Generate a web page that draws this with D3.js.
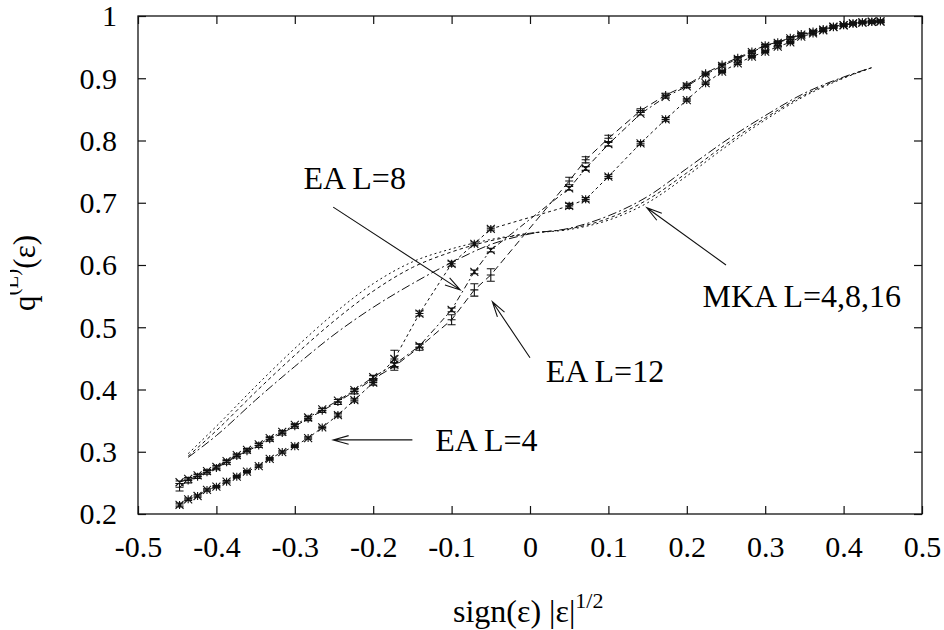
<!DOCTYPE html>
<html>
<head>
<meta charset="utf-8">
<script src="https://cdn.jsdelivr.net/npm/d3@7/dist/d3.min.js"></script>
<style>
  html, body { margin: 0; padding: 0; background: #fff; }
  svg { display: block; }
  text { font-family: "Liberation Serif", "Times New Roman", serif; fill: #000; }
</style>
</head>
<body>
<svg id="chart" width="944" height="630"></svg>
<script>
// ---------- data ----------
const eaX = [-0.447,-0.436,-0.424,-0.412,-0.400,-0.387,-0.374,-0.361,-0.346,-0.332,-0.316,-0.300,-0.283,-0.265,-0.245,-0.224,-0.200,-0.173,-0.141,-0.100,-0.071,-0.050,
              0.050, 0.071, 0.100, 0.141, 0.173, 0.200, 0.224, 0.245, 0.265, 0.283, 0.300, 0.316, 0.332, 0.346, 0.361, 0.374, 0.387, 0.400, 0.412, 0.424, 0.436, 0.447];

const eaL4 = [0.2145,0.2236,0.2289,0.2386,0.2439,0.2519,0.260,0.268,0.277,0.2885,0.2995,0.309,0.322,0.339,0.359,0.383,0.411,0.449,0.522,0.602,0.634,0.658,
              0.695,0.7055,0.742,0.7955,0.834,0.865,0.892,0.9106,0.924,0.9347,0.9427,0.9507,0.9577,0.967,0.972,0.977,0.982,0.985,0.9878,0.9895,0.9905,0.991];
const errL4 = [0.003,0.002,0.002,0.002,0.002,0.002,0.002,0.002,0.002,0.002,0.002,0.002,0.002,0.002,0.003,0.003,0.004,0.014,0.004,0.004,0.003,0.003,
               0.004,0.003,0.003,0.003,0.003,0.002,0.002,0.002,0.002,0.002,0.002,0.002,0.002,0.002,0.002,0.002,0.002,0.002,0.002,0.002,0.002,0.002];

const eaL8 = [0.251,0.2565,0.262,0.269,0.2755,0.285,0.2945,0.303,0.312,0.322,0.332,0.343,0.355,0.368,0.382,0.399,0.420,0.440,0.470,0.528,0.589,0.624,
              0.723,0.755,0.794,0.843,0.870,0.887,0.906,0.920,0.931,0.942,0.952,0.957,0.964,0.970,0.974,0.978,0.983,0.9855,0.988,0.9898,0.991,0.9915];
const errL8 = [0.002,0.002,0.002,0.002,0.002,0.002,0.002,0.002,0.002,0.002,0.002,0.002,0.002,0.002,0.002,0.002,0.003,0.003,0.003,0.003,0.003,0.003,
               0.003,0.003,0.003,0.002,0.002,0.002,0.002,0.002,0.002,0.002,0.002,0.002,0.002,0.002,0.002,0.002,0.002,0.002,0.002,0.002,0.002,0.002];

const eaL12 = [0.243,0.254,0.260,0.267,0.274,0.283,0.293,0.301,0.310,0.320,0.330,0.341,0.353,0.366,0.380,0.397,0.417,0.437,0.468,0.512,0.560,0.584,
               0.735,0.769,0.8035,0.848,0.873,0.889,0.908,0.922,0.933,0.943,0.953,0.958,0.965,0.971,0.975,0.979,0.983,0.986,0.988,0.990,0.991,0.992];
const errL12 = [0.006,0.004,0.003,0.003,0.003,0.003,0.003,0.003,0.003,0.003,0.003,0.003,0.003,0.003,0.004,0.004,0.005,0.006,0.005,0.008,0.010,0.010,
                0.006,0.005,0.005,0.003,0.003,0.003,0.002,0.002,0.002,0.002,0.002,0.002,0.002,0.002,0.002,0.002,0.002,0.002,0.002,0.002,0.002,0.002];

const mkaX   = [-0.436,-0.400,-0.350,-0.300,-0.250,-0.200,-0.150,-0.100,-0.050,0.000,0.050,0.100,0.150,0.200,0.250,0.300,0.350,0.400,0.436];
const mkaL4  = [0.297,0.341,0.405,0.466,0.522,0.570,0.605,0.626,0.641,0.651,0.657,0.672,0.700,0.743,0.790,0.833,0.871,0.900,0.917];
const mkaL8  = [0.293,0.334,0.396,0.455,0.510,0.558,0.596,0.621,0.639,0.651,0.658,0.675,0.705,0.748,0.794,0.836,0.873,0.901,0.917];
const mkaL16 = [0.291,0.326,0.383,0.437,0.488,0.532,0.570,0.604,0.633,0.650,0.659,0.679,0.710,0.755,0.800,0.840,0.876,0.902,0.917];

const xTicks = [-0.5,-0.4,-0.3,-0.2,-0.1,0,0.1,0.2,0.3,0.4,0.5];
const xTickLabels = ["-0.5","-0.4","-0.3","-0.2","-0.1","0","0.1","0.2","0.3","0.4","0.5"];
const yTicks = [0.2,0.3,0.4,0.5,0.6,0.7,0.8,0.9,1];
const yTickLabels = ["0.2","0.3","0.4","0.5","0.6","0.7","0.8","0.9","1"];

// annotations: label, text anchor point (data units), arrow tail and head (data units)
const annLabels = ["EA L=8", "EA L=12", "MKA L=4,8,16", "EA L=4"];
const annTextX = [-0.289, 0.020, 0.220, -0.121];
const annTextY = [0.722, 0.412, 0.533, 0.301];
const annTailX = [-0.251, 0.000, 0.250, -0.150];
const annTailY = [0.693, 0.451, 0.600, 0.319];
const annHeadX = [-0.089, -0.048, 0.149, -0.251];
const annHeadY = [0.560, 0.541, 0.692, 0.319];

// ---------- layout ----------
const W = 944, H = 630;
const m = { left: 138, right: 22, top: 16, bottom: 116 };
const svg = d3.select("#chart");
const x = d3.scaleLinear().domain([-0.5, 0.5]).range([m.left, W - m.right]);
const y = d3.scaleLinear().domain([0.2, 1]).range([H - m.bottom, m.top]);
const ink = "#111";
const serif = '"Liberation Serif", "Times New Roman", serif';

// frame
svg.append("rect")
  .attr("x", x(-0.5)).attr("y", y(1))
  .attr("width", x(0.5) - x(-0.5)).attr("height", y(0.2) - y(1))
  .attr("fill", "none").attr("stroke", ink).attr("stroke-width", 1.3);

// axes with inward ticks, custom labels
const fs = 30;
const xAxisB = d3.axisBottom(x).tickValues(xTicks).tickSizeInner(-8).tickSizeOuter(0)
  .tickFormat((d, i) => xTickLabels[i]);
const gxb = svg.append("g").attr("transform", `translate(0,${y(0.2)})`).call(xAxisB);
gxb.attr("font-family", serif);
gxb.select(".domain").remove();
gxb.selectAll("line").attr("stroke", ink).attr("stroke-width", 1.2);
gxb.selectAll("text").attr("font-size", fs).attr("dy", null).attr("y", 43)
  .style("font-family", serif);

const xAxisT = d3.axisTop(x).tickValues(xTicks).tickSizeInner(-8).tickSizeOuter(0).tickFormat("");
const gxt = svg.append("g").attr("transform", `translate(0,${y(1)})`).call(xAxisT);
gxt.select(".domain").remove();
gxt.selectAll("line").attr("stroke", ink).attr("stroke-width", 1.2);

const yAxisL = d3.axisLeft(y).tickValues(yTicks).tickSizeInner(-8).tickSizeOuter(0)
  .tickFormat((d, i) => yTickLabels[i]).tickPadding(21);
const gyl = svg.append("g").attr("transform", `translate(${x(-0.5)},0)`).call(yAxisL);
gyl.attr("font-family", serif);
gyl.select(".domain").remove();
gyl.selectAll("line").attr("stroke", ink).attr("stroke-width", 1.2);
gyl.selectAll("text").attr("font-size", fs).attr("dy", "0.33em")
  .style("font-family", serif);

const yAxisR = d3.axisRight(y).tickValues(yTicks).tickSizeInner(-8).tickSizeOuter(0).tickFormat("");
const gyr = svg.append("g").attr("transform", `translate(${x(0.5)},0)`).call(yAxisR);
gyr.select(".domain").remove();
gyr.selectAll("line").attr("stroke", ink).attr("stroke-width", 1.2);

// ---------- MKA curves ----------
const mkaSeries = [
  { vals: mkaL4,  dash: "2,3" },
  { vals: mkaL8,  dash: "3.5,3" },
  { vals: mkaL16, dash: "9,3,2,3" }
];
const lineGen = d3.line().curve(d3.curveMonotoneX);
mkaSeries.forEach(s => {
  svg.append("path")
    .attr("d", lineGen(mkaX.map((xv, i) => [x(xv), y(s.vals[i])])))
    .attr("fill", "none").attr("stroke", ink).attr("stroke-width", 1)
    .attr("stroke-dasharray", s.dash);
});

// ---------- EA series ----------
const eaSeries = [
  { vals: eaL4,  err: errL4,  dash: "3,3",     marker: "star" },
  { vals: eaL8,  err: errL8,  dash: "6,3,2,3", marker: "cross" },
  { vals: eaL12, err: errL12, dash: "7,4",     marker: "plus" }
];
const lin = d3.line();
const ms = 4, tick = 4;
eaSeries.forEach(s => {
  const pts = eaX.map((xv, i) => [x(xv), y(s.vals[i])]);
  svg.append("path").attr("d", lin(pts))
    .attr("fill", "none").attr("stroke", ink).attr("stroke-width", 1)
    .attr("stroke-dasharray", s.dash);
  const g = svg.append("g").attr("stroke", ink).attr("stroke-width", 1.1).attr("fill", "none");
  eaX.forEach((xv, i) => {
    const px = x(xv), py = y(s.vals[i]);
    const y0 = y(s.vals[i] - s.err[i]), y1 = y(s.vals[i] + s.err[i]);
    const p = d3.path();
    p.moveTo(px, y0); p.lineTo(px, y1);
    p.moveTo(px - tick, y0); p.lineTo(px + tick, y0);
    p.moveTo(px - tick, y1); p.lineTo(px + tick, y1);
    if (s.marker === "plus" || s.marker === "star") {
      p.moveTo(px - ms, py); p.lineTo(px + ms, py);
      p.moveTo(px, py - ms); p.lineTo(px, py + ms);
    }
    if (s.marker === "cross" || s.marker === "star") {
      p.moveTo(px - ms, py - ms); p.lineTo(px + ms, py + ms);
      p.moveTo(px - ms, py + ms); p.lineTo(px + ms, py - ms);
    }
    g.append("path").attr("d", p.toString());
  });
});

// ---------- annotations ----------
annLabels.forEach((lab, i) => {
  svg.append("text").attr("x", x(annTextX[i])).attr("y", y(annTextY[i]))
    .attr("font-size", 32).text(lab);
  const tx = x(annTailX[i]), ty = y(annTailY[i]);
  const hx = x(annHeadX[i]), hy = y(annHeadY[i]);
  const ang = Math.atan2(hy - ty, hx - tx);
  const L = 16, a = 0.27;
  const p = d3.path();
  p.moveTo(tx, ty); p.lineTo(hx, hy);
  p.moveTo(hx - L * Math.cos(ang - a), hy - L * Math.sin(ang - a));
  p.lineTo(hx, hy);
  p.lineTo(hx - L * Math.cos(ang + a), hy - L * Math.sin(ang + a));
  svg.append("path").attr("d", p.toString())
    .attr("fill", "none").attr("stroke", ink).attr("stroke-width", 1.1);
});

// ---------- axis titles ----------
const xt = svg.append("text").attr("x", 453).attr("y", 622).attr("font-size", 32);
xt.append("tspan").text("sign(ε) |ε|");
xt.append("tspan").attr("font-size", 22).attr("dy", -14).text("1/2");

svg.append("clipPath").attr("id", "ylabclip")
  .append("rect").attr("x", 10).attr("y", 0).attr("width", 200).attr("height", H);
const yg = svg.append("g").attr("clip-path", "url(#ylabclip)");
const yt = yg.append("text").attr("transform", "translate(35,311) rotate(-90)")
  .attr("font-size", 31);
yt.append("tspan").text("q");
yt.append("tspan").attr("font-size", 21).attr("dy", -17).text("(L)");
yt.append("tspan").attr("dy", 17).text("(ε)");
</script>
</body>
</html>
